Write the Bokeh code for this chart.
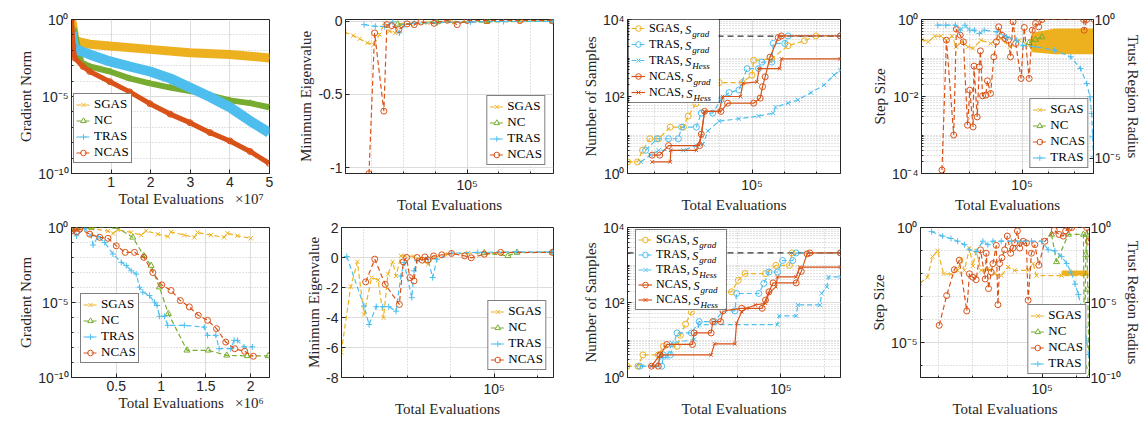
import math
from bokeh.plotting import figure
from bokeh.layouts import column, row
from bokeh.core.properties import value
from bokeh.models import (Range1d, FixedTicker, CustomJSTickFormatter, Legend, LegendItem,
                          LogAxis, LogScale, Span)
from bokeh.embed import file_html
from bokeh.resources import INLINE

C_SGAS = "#EDB120"
C_NC = "#77AC30"
C_TRAS = "#4DBEEE"
C_NCAS = "#D95319"

# ---------------- data: top row ----------------
p1_sgas_x = [1e5, 5.5e5, 8e5, 2e6, 4.6e6, 9.7e6, 1.98e7, 2.99e7, 4.0e7, 5.0e7]
p1_sgas_y = [0.79, 0.19, 0.052, 0.035, 0.025, 0.019, 0.0115, 0.0069, 0.0054, 0.0032]
p1_nc_x = [5.5e5, 2.5e6, 4.6e6, 9.7e6, 1.47e7, 1.98e7, 2.49e7, 2.99e7, 3.5e7, 4.0e7, 4.51e7, 4.99e7]
p1_nc_y = [0.24, 1.6e-3, 8.9e-4, 4.2e-4, 1.5e-4, 7.1e-5, 3.8e-5, 2.3e-5, 1.2e-5, 5.6e-6, 3.7e-6, 2.0e-6]
p1_tras_x = [1.3e5, 5.5e5, 1.2e6, 4.6e6, 9.7e6, 1.47e7, 1.98e7, 2.49e7, 2.99e7, 3.5e7, 4.0e7, 4.51e7, 4.99e7]
p1_tras_y = [0.145, 0.019, 0.0115, 5.4e-3, 1.9e-3, 8.9e-4, 4.2e-4, 1.5e-4, 3.8e-5, 9.3e-6, 2.0e-6, 2.6e-7, 4.5e-8]
p1_ncas_x = [0, 4e5, 8e5, 2.9e6, 4.6e6, 9.7e6, 1.47e7, 1.98e7, 2.49e7, 2.99e7, 3.5e7, 4.0e7, 4.51e7, 4.99e7]
p1_ncas_y = [1.0, 0.019, 3.2e-3, 8.9e-4, 4.2e-4, 9.1e-5, 2.0e-5, 3.4e-6, 7.2e-7, 2.0e-7, 4.5e-8, 1.3e-8, 2.7e-9, 4.6e-10]

p2_sgas_x = [16900, 19100, 21000, 23500, 25850, 28050, 30150, 32400, 35150, 38300, 44250, 56250, 82600, 133350, 215400, 344700]
p2_sgas_y = [-0.073, -0.098, -0.12, -0.148, -0.159, -0.091, -0.011, -0.068, -0.08, -0.023, -0.018, -0.011, -0.007, -0.005, -0.002, -0.001]
p2_nc_x = [36500, 64950, 133350, 344700]
p2_nc_y = [-0.02, -0.005, -0.002, 0.0]
p2_tras_x = [22400, 26350, 30150, 34000, 37400, 40200, 46400, 64950, 104900, 169500, 344700]
p2_tras_y = [-0.023, -0.034, -0.036, -0.005, -0.08, -0.023, -0.014, -0.009, -0.005, -0.002, -0.001]
p2_ncas_x = [24050, 26100, 29850, 31200, 33500, 37050, 41800, 46400, 51100, 61900, 75000, 86600, 100000, 133350, 215400, 344700]
p2_ncas_y = [-1.041, -0.08, -0.614, -0.023, -0.03, -0.057, -0.018, -0.023, -0.005, -0.014, 0.007, -0.023, 0.005, 0.005, 0.005, 0.005]

p3_sgas_x = [17140, 19700, 21150, 23500, 26600, 31350, 37750, 40450, 45000, 52250, 62800, 87100, 100000, 102300, 132100, 166700, 210200, 247300]
p3_sgas_y = [2, 2, 4, 8, 8, 16, 16, 31, 65, 120, 230, 230, 360, 870, 950, 2090, 2800, 3740]
p3_trg_x = [22100, 26000, 30600, 35200, 36850, 45400, 48700, 57250, 64300, 72250, 83000, 93300, 109700, 114900, 132100, 135200, 159200, 166700, 350000]
p3_trg_y = [4, 8, 8, 8, 16, 16, 37, 37, 82, 126, 148, 530, 530, 780, 780, 2400, 2400, 3740, 3740]
p3_trh_x = [20650, 23700, 26600, 37750, 45400, 49900, 53500, 62800, 83000, 109700, 135200, 139700, 166700, 191500, 230700, 278000, 319500, 350000]
p3_trh_y = [2, 3, 4, 4, 5.3, 5.8, 12.8, 23, 26.5, 31, 37, 53, 67, 82, 126, 199, 360, 480]
p3_ncg_x = [24250, 27000, 30600, 47550, 48700, 51000, 64300, 70650, 102300, 112300, 116100, 120500, 129100, 145000, 151800, 350000]
p3_ncg_y = [3, 3, 5.3, 5.3, 10.5, 41, 41, 67, 67, 91, 180, 325, 1050, 3400, 3740, 3740]
p3_nch_x = [24250, 31350, 31600, 45400, 48700, 51000, 62800, 65900, 85000, 87800, 107200, 110800, 148300, 151800, 350000]
p3_nch_y = [2, 2, 4, 4, 9.5, 41, 41, 100, 100, 220, 240, 530, 530, 950, 950]
p3_target = 3700

p4_sgas_x = [17200, 19250, 21500, 24050, 26500, 29300, 31350, 34700, 38800, 42300, 48650, 57550, 68200, 80700, 95500, 113200]
p4_sgas_y = [0.302, 0.263, 0.369, 0.369, 0.29, 0.369, 0.195, 0.263, 0.195, 0.177, 0.29, 0.238, 0.321, 0.195, 0.29, 0.216]
p4_band_x = [113200, 119700, 177400, 353000]
p4_band_lo = [0.2, 0.14, 0.126, 0.126]
p4_band_hi = [0.25, 0.45, 0.58, 0.58]
p4_nc_x = [113200, 126700, 141800]
p4_nc_y = [0.25, 0.30, 0.35]
p4_ncas_x = [24500, 26500, 30100, 31550, 33750, 35700, 38400, 39950, 42300, 43000, 45500, 47250, 48100, 50000, 52950, 54450, 57550, 60950, 63700, 66350, 70150, 74200, 78550, 81650, 85450, 89400, 98300, 104000, 113200, 119700, 126700, 133900, 141800, 294600, 297800, 311700, 353000]
p4_ncas_y = [1.23e-4, 0.29, 1.0e-3, 0.561, 0.392, 0.263, 1.8e-3, 0.0146, 1.62e-3, 0.0614, 2.95e-3, 0.059, 0.153, 0.0104, 0.0109, 0.0255, 0.012, 0.107, 0.263, 0.645, 0.392, 0.321, 0.29, 0.107, 0.87, 0.238, 0.0294, 0.62, 0.0294, 0.528, 0.787, 0.645, 1.0, 1.0, 0.528, 1.0, 1.0]
p4_tras_x = [22750, 26200, 31000, 33750, 36700, 39950, 43450, 47300, 51400, 64400, 76400, 90400, 101100, 126700, 177400, 235400, 278600, 311700, 329700, 339500, 345400, 351000]
p4_tras_y = [0.625, 0.625, 0.625, 0.413, 0.625, 0.413, 0.413, 0.313, 0.413, 0.36, 0.238, 0.18, 0.119, 0.104, 0.0789, 0.0454, 0.0173, 4.99e-3, 1.65e-3, 4.17e-4, 6.0e-5, 1.15e-5]

# ---------------- data: bottom row ----------------
p5_sgas_x = [18500, 222000, 407000, 463000, 518500, 666700, 777800, 833300, 963000, 1074000, 1111000, 1259000, 1370000, 1407000, 1556000, 1704000, 1741000, 1852000, 2000000]
p5_sgas_y = [0.78, 0.86, 0.57, 0.40, 0.70, 0.47, 0.31, 0.60, 0.36, 0.25, 0.51, 0.31, 0.22, 0.47, 0.31, 0.22, 0.42, 0.28, 0.19]
p5_nc_x = [44400, 222000, 488900, 685000, 807400, 888900, 981500, 1081500, 1288900, 1525900, 1733300, 1963000, 2196000]
p5_nc_y = [0.78, 1.0, 1.16, 0.22, 0.013, 2.9e-3, 1.05e-4, 1.8e-6, 6.5e-9, 6.5e-9, 3.0e-9, 2.75e-9, 2.75e-9]
p5_tras_x = [18500, 55600, 148100, 222000, 240700, 296300, 370400, 463000, 555600, 611100, 666700, 722200, 759300, 796300, 870400, 925900, 955600, 981500, 1037000, 1074000, 1259000, 1481000, 1518500, 1611000, 1648000, 1778000, 1815000, 1852000, 1926000, 2018500]
p5_tras_y = [0.60, 0.28, 0.86, 0.28, 0.068, 0.25, 0.1, 0.017, 4.8e-3, 2.9e-3, 1.3e-3, 7.9e-4, 1.05e-4, 4.9e-5, 2.9e-5, 1.05e-5, 6.3e-6, 1.2e-6, 1.2e-6, 3.0e-7, 3.0e-7, 2.3e-7, 6.5e-8, 6.5e-8, 8.3e-9, 8.3e-9, 3.0e-8, 3.0e-8, 1.1e-8, 1.1e-8]
p5_ncas_x = [7400, 29600, 55600, 92600, 203700, 314800, 407400, 500000, 600000, 703700, 807400, 907400, 1007400, 1111000, 1214800, 1314800, 1414800, 1518500, 1618500, 1722000, 1822000, 1933000, 2029600]
p5_ncas_y = [0.60, 0.78, 0.51, 0.78, 0.36, 0.22, 0.19, 0.06, 0.022, 0.022, 0.0102, 1.0e-3, 1.5e-4, 6.3e-5, 1.35e-5, 5.1e-6, 1.4e-6, 6.5e-7, 1.8e-7, 2.3e-8, 8.3e-9, 5.6e-9, 2.6e-9]

p6_sgas_x = [19800, 21900, 23500, 25200, 27300, 29250, 31000, 32450, 34150, 35400, 37250, 39000, 42800, 45850, 49650, 52700, 59450, 75850, 107200, 185400]
p6_sgas_y = [-6.32, -1.94, -0.29, -3.8, -1.34, -1.5, -4.02, -1.12, -0.29, -1.23, 0.11, 0.11, 0.07, -0.11, -0.45, 0.0, 0.22, 0.29, 0.31, 0.34]
p6_nc_x = [90100, 115700, 127400, 185400]
p6_nc_y = [0.3, 0.11, 0.33, 0.34]
p6_tras_x = [21000, 25200, 26600, 28700, 30750, 32750, 35400, 37250, 38550, 41800, 42800, 44250, 49650, 52150, 54550, 63700, 84100, 127400, 185400]
p6_tras_y = [0.07, -3.24, -4.47, -3.28, -3.28, -3.28, -3.58, -1.23, -0.34, -2.68, -0.89, -0.22, -0.11, -1.34, -0.11, 0.29, 0.34, 0.38, 0.38]
p6_ncas_x = [25650, 28250, 31550, 36650, 38200, 39550, 40950, 42800, 44250, 46650, 48000, 49650, 52700, 57450, 63700, 73200, 78500, 90100, 107200, 185400]
p6_ncas_y = [-1.63, -0.11, -1.79, -3.13, -0.29, 0.0, -1.34, -1.56, 0.0, -0.18, 0.04, -0.16, 0.11, 0.18, 0.27, 0.11, -0.02, 0.22, 0.34, 0.34]

p7_sgas_x = [19770, 22170, 23370, 27470, 29020, 33500, 34690, 36620, 38940, 43830, 49700, 59450, 63830, 68560, 85050, 94850, 109400, 112500]
p7_sgas_y = [2, 2, 4, 4, 6.8, 6.8, 13.3, 26.5, 55, 110, 193, 193, 392, 590, 590, 977, 977, 2100]
p7_trg_x = [22590, 28500, 29020, 31200, 33500, 38940, 42260, 49700, 54340, 61630, 62700, 79260, 83620, 88200, 96480, 101800, 113400, 117500, 187500]
p7_trg_y = [2, 2, 4, 4, 15.4, 15.4, 31, 31, 60, 60, 174, 174, 322, 650, 650, 1320, 1320, 2100, 2100]
p7_trh_x = [22960, 26540, 28500, 30080, 31760, 40090, 42260, 96480, 98220, 117500, 119600, 151000, 153800, 162300, 165200, 187500]
p7_trh_y = [2, 2, 3.4, 3.4, 8.4, 10.3, 25.6, 25.6, 44, 44, 86, 86, 175, 262, 480, 480]
p7_ncg_x = [25580, 27470, 27970, 30080, 39380, 40090, 47960, 48780, 52970, 54340, 66180, 82080, 85050, 88200, 92090, 117500, 124000, 131800, 135600, 187500]
p7_ncg_y = [2, 2, 4, 7.6, 7.6, 15.4, 15.4, 31, 31, 60, 70, 70, 116, 193, 333, 333, 676, 1980, 2100, 2100]
p7_nch_x = [25580, 27970, 47960, 49700, 61630, 62700, 66180, 69840, 76420, 85050, 88200, 94850, 96480, 117500, 121900, 187500]
p7_nch_y = [2, 4, 4, 7.9, 7.9, 28, 57, 70, 86, 95, 175, 262, 480, 480, 880, 880]
p7_target = 2100

p8_sgas_x = [19770, 21790, 23280, 24930, 27000, 29770, 32550, 34040, 35590, 38040, 39800, 41590, 44460, 48620, 53110, 58080, 63520, 69390, 82940, 88660, 92710, 129500, 184900]
p8_sgas_y = [3.8e-3, 6.9e-3, 0.054, 0.097, 9.7e-3, 9.3e-3, 0.0136, 0.041, 0.0136, 0.127, 0.0214, 0.097, 0.0136, 0.0162, 9.7e-3, 8.1e-3, 0.019, 0.0136, 0.0136, 0.027, 8.1e-3, 8.1e-3, 8.1e-3]
p8_band_x = [129500, 184900]
p8_band_lo = [0.0081, 0.0081]
p8_band_hi = [0.0136, 0.0136]
p8_nc_x = [113200, 121100, 141600, 173000, 175400, 178400, 180700, 183200, 186600]
p8_nc_y = [0.5, 0.032, 0.5, 0.5, 9.1e-7, 0.064, 0.5, 2.0e-3, 3.2e-7]
p8_ncas_x = [25470, 28110, 31120, 33270, 36720, 38040, 39800, 41590, 44060, 46900, 47540, 49040, 50830, 51990, 54340, 55550, 56800, 58590, 60720, 62950, 65800, 67890, 69390, 71940, 74200, 77590, 81130, 82940, 86720, 90660, 95650, 103600, 117400, 125000, 132400, 136600, 142800, 148000, 180700, 184900]
p8_ncas_y = [5.6e-5, 1.1e-3, 0.0146, 0.038, 2.36e-4, 9.7e-3, 6.9e-3, 5.4e-3, 0.107, 5.8e-3, 0.076, 2.2e-3, 0.0115, 0.027, 0.167, 4.4e-4, 0.027, 0.049, 0.107, 0.424, 0.076, 0.127, 0.213, 0.71, 0.127, 0.252, 0.213, 6.9e-4, 0.076, 0.18, 0.023, 0.252, 0.76, 0.5, 0.424, 0.71, 0.93, 1.0, 1.0, 0.252]
p8_tras_x = [23010, 26670, 29770, 32550, 35590, 38040, 41590, 45490, 48620, 51990, 58080, 66380, 75860, 86720, 99110, 108300, 118400, 129500, 138400, 146600, 154800, 161800, 169100, 176900, 180700, 184900]
p8_tras_y = [0.531, 0.268, 0.185, 0.122, 0.0718, 0.0326, 0.0251, 0.122, 0.0718, 0.122, 0.122, 0.122, 0.122, 0.122, 0.122, 0.0326, 0.0278, 0.0114, 3.97e-3, 1.06e-3, 1.67e-4, 3.45e-5, 3.2e-6, 2.3e-7, 2.8e-8, 3.4e-9]

# legend texts for the sample-size panels
SAMPLE_NAMES = ["SGAS,", "TRAS,", "TRAS,", "NCAS,", "NCAS,"]
SAMPLE_SUBS = ["grad", "grad", "Hess", "grad", "Hess"]

# ---------------- axis limits ----------------
TOP_X = (10 ** 4.233, 10 ** 5.545)
BOT_X = (10 ** 4.298, 10 ** 5.273)
SAMPLES_Y = (1, 1e4)

# layout (frames are aligned per row / column by Bokeh)
COL_W = [295, 284, 289, 275]
COL_L = [71, 46, 48, 51]
COL_R = [26, 26, 28, 50]
ROW_H = [216, 204]
ROW_T = [19, 11]
ROW_B = [43, 43]
NB = "\u00a0"

SUP_JS = """
const e = Math.round(Math.log10(tick));
const m = {'-':'\u207b','0':'\u2070','1':'\u00b9','2':'\u00b2','3':'\u00b3','4':'\u2074','5':'\u2075','6':'\u2076','7':'\u2077','8':'\u2078','9':'\u2079'};
return '10' + String(e).split('').map(c => m[c]).join('');
"""


def log_fmt():
    return CustomJSTickFormatter(code=SUP_JS)


def scale_fmt(s):
    return CustomJSTickFormatter(code="return String(Math.round(tick / %r * 100) / 100);" % s)


def plain_fmt():
    return CustomJSTickFormatter(code="return String(tick);")


def decade_minors(lo, hi, majors, dense):
    out = []
    for n in range(lo, hi + 1):
        ms = range(1, 10) if dense else [1]
        for m in ms:
            v = m * 10.0 ** n
            if not any(abs(v - t) / t < 1e-9 for t in majors):
                out.append(v)
    return out


def style_axis(ax):
    ax.axis_line_color = "#262626"
    ax.major_tick_line_color = "#262626"
    ax.minor_tick_line_color = "#262626"
    ax.major_tick_in = 4
    ax.major_tick_out = 0
    ax.minor_tick_in = 2
    ax.minor_tick_out = 0
    ax.major_label_text_font = "Liberation Sans"
    ax.major_label_text_font_size = "14px"
    ax.major_label_text_color = "#262626"
    ax.major_label_standoff = 3
    ax.axis_label_text_font = "Liberation Serif"
    ax.axis_label_text_font_size = "15px"
    ax.axis_label_text_font_style = "normal"
    ax.axis_label_text_color = "#262626"
    ax.axis_label_standoff = 1


def make_fig(r, c, xr, yr, xlog, ylog, ylabel):
    p = figure(width=COL_W[c], height=ROW_H[r], x_range=Range1d(*xr), y_range=Range1d(*yr),
               x_axis_type="log" if xlog else "linear",
               y_axis_type="log" if ylog else "linear",
               output_backend="svg", toolbar_location=None,
               min_border_left=COL_L[c], min_border_right=COL_R[c],
               min_border_top=ROW_T[r], min_border_bottom=ROW_B[r])
    p.outline_line_color = "#262626"
    p.outline_line_alpha = 1.0
    p.xaxis.axis_label = "Total Evaluations"
    p.yaxis.axis_label = ylabel
    for ax in p.axis:
        style_axis(ax)
    for g in p.grid:
        g.grid_line_color = "#dcdcdc"
    return p


def frame_size(r, c):
    return COL_W[c] - COL_L[c] - COL_R[c], ROW_H[r] - ROW_T[r] - ROW_B[r]


def minor_grid(g):
    g.minor_grid_line_color = "#c4c4c4"
    g.minor_grid_line_dash = "1 2"


def log_x_ticks(p, kmin, kmax):
    p.xaxis.ticker = FixedTicker(ticks=[1e5], minor_ticks=[10 ** (5 + 0.2 * k) for k in range(kmin, kmax + 1) if k != 0])
    p.xaxis.formatter = log_fmt()
    minor_grid(p.xgrid[0])


def series(p, x, y, color, marker, dash="5 3", size=6, yname=None):
    kw = {"y_range_name": yname} if yname else {}
    ln = p.line(x, y, line_color=color, line_width=1.2, line_dash=dash, **kw)
    sc = p.scatter(x, y, marker=marker, size=size, line_color=color, fill_color=None, line_width=1, **kw)
    return [ln, sc]


def band_series(p, x, y, color, marker, bw):
    p.line(x, y, line_color=color, line_width=bw)
    return series(p, x, y, color, marker)


def add_legend(p, items, location, fs="13px", row_h=15, label_width=None, margin=0, bg_alpha=1.0):
    leg = Legend(items=[LegendItem(label=l, renderers=r) for l, r in items],
                 location=location, margin=margin, padding=2, spacing=0,
                 glyph_width=14, glyph_height=row_h, label_height=row_h,
                 label_standoff=4, label_text_font="Liberation Serif",
                 label_text_font_size=fs, label_text_color="black",
                 border_line_color="black", border_line_width=1,
                 background_fill_color="white", background_fill_alpha=bg_alpha)
    if label_width:
        leg.label_width = label_width
    p.add_layout(leg)


def right_axis(p, name, yr, ticks):
    p.extra_y_ranges = {name: Range1d(*yr)}
    p.extra_y_scales = {name: LogScale()}
    ax = LogAxis(y_range_name=name, ticker=FixedTicker(ticks=ticks), formatter=log_fmt(),
                 axis_label="Trust Region Radius")
    style_axis(ax)
    ax.major_label_standoff = 1
    ax.axis_label_standoff = 1
    p.add_layout(ax, "right")


def log_pos(rng, frac):
    a, b = math.log10(rng[0]), math.log10(rng[1])
    return 10 ** (a + frac * (b - a))


def sample_legend(p, rs, r, c, xr, yr, vx, vy, rh):
    """Legend box with italic S and subscripts drawn as text glyphs over a white panel."""
    pad, n, lw = 2, 5, 68
    fw, fh = frame_size(r, c)
    W = 2 * pad + 14 + 4 + lw
    H = 2 * pad + n * rh
    p.quad(left=[log_pos(xr, vx / fw)], right=[log_pos(xr, (vx + W) / fw)],
           bottom=[log_pos(yr, vy / fh)], top=[log_pos(yr, (vy + H) / fh)],
           fill_color="white", line_color=None)
    x0 = vx + pad + 14 + 4
    name_w = [36.7, 36.7, 36.7, 38.0, 38.0]
    cy = [vy + H - pad - rh / 2 - rh * i for i in range(n)]
    p.text(x=[log_pos(xr, (x0 + name_w[i]) / fw) for i in range(n)],
           y=[log_pos(yr, cy[i] / fh) for i in range(n)], text=["S"] * n,
           text_font=value("Liberation Serif"), text_font_style="italic",
           text_font_size="12px", text_baseline="middle", text_color="black")
    p.text(x=[log_pos(xr, (x0 + name_w[i] + 7) / fw) for i in range(n)],
           y=[log_pos(yr, (cy[i] - 4) / fh) for i in range(n)], text=SAMPLE_SUBS,
           text_font=value("Liberation Serif"), text_font_style="italic",
           text_font_size="9px", text_baseline="middle", text_color="black")
    add_legend(p, list(zip(SAMPLE_NAMES, rs)), (vx, vy), fs="12px", row_h=rh,
               label_width=lw, bg_alpha=0.0)


# ---------------- Panel 1 ----------------
f1 = make_fig(0, 0, (0, 5e7), (1e-10, 1), False, True, "Gradient Norm")
f1.xaxis.axis_label = NB * 11 + "Total Evaluations" + NB * 3 + "\u00d710\u2077"
f1.xaxis.ticker = FixedTicker(ticks=[1e7, 2e7, 3e7, 4e7, 5e7])
f1.xaxis.formatter = scale_fmt(1e7)
f1.yaxis.ticker = FixedTicker(ticks=[1e-10, 1e-5, 1], minor_ticks=decade_minors(-10, 0, [1e-10, 1e-5, 1], False))
f1.yaxis.formatter = log_fmt()
minor_grid(f1.ygrid[0])
r1a = band_series(f1, p1_sgas_x, p1_sgas_y, C_SGAS, "x", 9)
r1b = band_series(f1, p1_nc_x, p1_nc_y, C_NC, "triangle", 6)
r1c = band_series(f1, p1_tras_x, p1_tras_y, C_TRAS, "cross", 10)
r1d = band_series(f1, p1_ncas_x, p1_ncas_y, C_NCAS, "circle", 5)
add_legend(f1, [("SGAS", r1a), ("NC", r1b), ("TRAS", r1c), ("NCAS", r1d)], (2, 10))

# ---------------- Panel 2 ----------------
f2 = make_fig(0, 1, TOP_X, (-1.04, 0.012), True, False, "Minimum Eigenvalue")
log_x_ticks(f2, -4, 3)
f2.yaxis.ticker = FixedTicker(ticks=[-1, -0.5, 0])
f2.yaxis.formatter = plain_fmt()
r2a = series(f2, p2_sgas_x, p2_sgas_y, C_SGAS, "x")
r2b = series(f2, p2_nc_x, p2_nc_y, C_NC, "triangle")
r2c = series(f2, p2_tras_x, p2_tras_y, C_TRAS, "cross")
r2d = series(f2, p2_ncas_x, p2_ncas_y, C_NCAS, "circle")
add_legend(f2, [("SGAS", r2a), ("NC", r2b), ("TRAS", r2c), ("NCAS", r2d)], "bottom_right", margin=8)

# ---------------- Panel 3 ----------------
f3 = make_fig(0, 2, TOP_X, SAMPLES_Y, True, True, "Number of Samples")
log_x_ticks(f3, -4, 3)
f3.yaxis.ticker = FixedTicker(ticks=[1, 1e2, 1e4], minor_ticks=decade_minors(0, 3, [1, 1e2, 1e4], True))
f3.yaxis.formatter = log_fmt()
minor_grid(f3.ygrid[0])
f3.add_layout(Span(location=p3_target, dimension="width", line_color="black", line_dash="6 4", line_width=1, level="underlay"))
r3 = [series(f3, p3_sgas_x, p3_sgas_y, C_SGAS, "circle"),
      series(f3, p3_trg_x, p3_trg_y, C_TRAS, "circle"),
      series(f3, p3_trh_x, p3_trh_y, C_TRAS, "x"),
      series(f3, p3_ncg_x, p3_ncg_y, C_NCAS, "circle", dash="solid"),
      series(f3, p3_nch_x, p3_nch_y, C_NCAS, "x", dash="solid", size=5)]
sample_legend(f3, r3, 0, 2, TOP_X, SAMPLES_Y, 1, 70, 16)

# ---------------- Panel 4 ----------------
f4 = make_fig(0, 3, TOP_X, (1e-4, 1), True, True, "Step Size")
log_x_ticks(f4, -4, 3)
f4.yaxis.ticker = FixedTicker(ticks=[1e-4, 1e-2, 1], minor_ticks=decade_minors(-4, -1, [1e-4, 1e-2, 1], True))
f4.yaxis.formatter = log_fmt()
minor_grid(f4.ygrid[0])
right_axis(f4, "tr", (10 ** -5.54, 1), [1e-5, 1])
f4.varea(x=p4_band_x, y1=p4_band_lo, y2=p4_band_hi, fill_color=C_SGAS)
r4a = series(f4, p4_sgas_x, p4_sgas_y, C_SGAS, "x")
r4b = series(f4, p4_nc_x, p4_nc_y, C_NC, "triangle")
r4c = series(f4, p4_ncas_x, p4_ncas_y, C_NCAS, "circle")
r4d = series(f4, p4_tras_x, p4_tras_y, C_TRAS, "cross", yname="tr")
add_legend(f4, [("SGAS", r4a), ("NC", r4b), ("NCAS", r4c), ("TRAS", r4d)], "bottom_right", margin=5)

# ---------------- Panel 5 ----------------
f5 = make_fig(1, 0, (0, 2.21e6), (1e-10, 1), False, True, "Gradient Norm")
f5.xaxis.axis_label = NB * 11 + "Total Evaluations" + NB * 3 + "\u00d710\u2076"
f5.xaxis.ticker = FixedTicker(ticks=[5e5, 1e6, 1.5e6, 2e6])
f5.xaxis.formatter = scale_fmt(1e6)
f5.yaxis.ticker = FixedTicker(ticks=[1e-10, 1e-5, 1], minor_ticks=decade_minors(-10, 0, [1e-10, 1e-5, 1], False))
f5.yaxis.formatter = log_fmt()
minor_grid(f5.ygrid[0])
r5a = series(f5, p5_sgas_x, p5_sgas_y, C_SGAS, "x")
r5b = series(f5, p5_nc_x, p5_nc_y, C_NC, "triangle")
r5c = series(f5, p5_tras_x, p5_tras_y, C_TRAS, "cross")
r5d = series(f5, p5_ncas_x, p5_ncas_y, C_NCAS, "circle")
add_legend(f5, [("SGAS", r5a), ("NC", r5b), ("TRAS", r5c), ("NCAS", r5d)], (9, 14))

# ---------------- Panel 6 ----------------
f6 = make_fig(1, 1, BOT_X, (-8, 2), True, False, "Minimum Eigenvalue")
log_x_ticks(f6, -3, 2)
f6.yaxis.ticker = FixedTicker(ticks=[-8, -6, -4, -2, 0, 2])
f6.yaxis.formatter = plain_fmt()
r6a = series(f6, p6_sgas_x, p6_sgas_y, C_SGAS, "x")
r6b = series(f6, p6_nc_x, p6_nc_y, C_NC, "triangle")
r6c = series(f6, p6_tras_x, p6_tras_y, C_TRAS, "cross")
r6d = series(f6, p6_ncas_x, p6_ncas_y, C_NCAS, "circle")
add_legend(f6, [("SGAS", r6a), ("NC", r6b), ("TRAS", r6c), ("NCAS", r6d)], "bottom_right", margin=7)

# ---------------- Panel 7 ----------------
f7 = make_fig(1, 2, BOT_X, SAMPLES_Y, True, True, "Number of Samples")
log_x_ticks(f7, -3, 2)
f7.yaxis.ticker = FixedTicker(ticks=[1, 1e2, 1e4], minor_ticks=decade_minors(0, 3, [1, 1e2, 1e4], True))
f7.yaxis.formatter = log_fmt()
minor_grid(f7.ygrid[0])
f7.add_layout(Span(location=p7_target, dimension="width", line_color="black", line_dash="6 4", line_width=1, level="underlay"))
r7 = [series(f7, p7_sgas_x, p7_sgas_y, C_SGAS, "circle"),
      series(f7, p7_trg_x, p7_trg_y, C_TRAS, "circle"),
      series(f7, p7_trh_x, p7_trh_y, C_TRAS, "x"),
      series(f7, p7_ncg_x, p7_ncg_y, C_NCAS, "circle", dash="solid"),
      series(f7, p7_nch_x, p7_nch_y, C_NCAS, "x", dash="solid", size=5)]
sample_legend(f7, r7, 1, 2, BOT_X, SAMPLES_Y, 8, 67, 15)

# ---------------- Panel 8 ----------------
f8 = make_fig(1, 3, BOT_X, (10 ** -6.52, 1), True, True, "Step Size")
log_x_ticks(f8, -3, 2)
f8.yaxis.ticker = FixedTicker(ticks=[1e-5, 1], minor_ticks=[1e-6, 1e-4, 1e-3, 1e-2, 1e-1])
f8.yaxis.formatter = log_fmt()
minor_grid(f8.ygrid[0])
right_axis(f8, "tr", (1e-10, 1), [1e-10, 1e-5, 1])
f8.varea(x=p8_band_x, y1=p8_band_lo, y2=p8_band_hi, fill_color=C_SGAS)
r8a = series(f8, p8_sgas_x, p8_sgas_y, C_SGAS, "x")
r8b = series(f8, p8_nc_x, p8_nc_y, C_NC, "triangle")
r8c = series(f8, p8_ncas_x, p8_ncas_y, C_NCAS, "circle")
r8d = series(f8, p8_tras_x, p8_tras_y, C_TRAS, "cross", yname="tr")
add_legend(f8, [("SGAS", r8a), ("NC", r8b), ("NCAS", r8c), ("TRAS", r8d)], "bottom_right", margin=3)

layout = column(row(f1, f2, f3, f4), row(f5, f6, f7, f8))
open("out.html", "w").write(file_html(layout, INLINE))
